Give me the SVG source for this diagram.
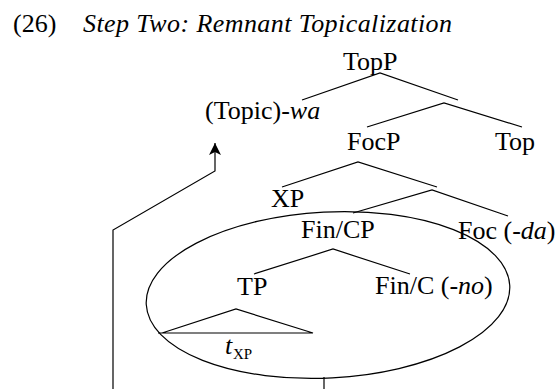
<svg xmlns="http://www.w3.org/2000/svg" width="558" height="389" viewBox="0 0 558 389">
<style>
text{font-family:"Liberation Serif","Times New Roman",serif;font-size:26px;fill:#000}
.it{font-style:italic}
.sub{font-size:15px}
.ln{fill:none;stroke:#000;stroke-width:1.2}
</style>
<defs>
<marker id="arr" viewBox="0 0 12 12" markerWidth="12" markerHeight="12" refX="12" refY="6" orient="auto" markerUnits="userSpaceOnUse">
<path d="M12,6 L0,0 L3,6 L0,12 Z" fill="#000"/>
</marker>
</defs>
<g id="title">
<text x="13" y="32">(26)</text>
<text x="83" y="32" class="it" textLength="369" lengthAdjust="spacing">Step Two: Remnant Topicalization</text>
</g>
<g id="TopP"><text x="343" y="70">TopP</text></g>
<g id="Topic"><text x="205" y="119">(Topic)-<tspan class="it">wa</tspan></text></g>
<g id="FocP"><text x="347" y="150">FocP</text></g>
<g id="Top"><text x="495" y="150">Top</text></g>
<g id="XP"><text x="271" y="207">XP</text></g>
<g id="FinCP"><text x="301" y="238">Fin/CP</text></g>
<g id="Foc"><text x="458" y="239">Foc (-<tspan class="it">da</tspan>)</text></g>
<g id="TP"><text x="237" y="295">TP</text></g>
<g id="FinC"><text x="375" y="294">Fin/C (-<tspan class="it">no</tspan>)</text></g>
<g id="trace"><text x="225" y="354" class="it">t</text><text x="233" y="359" class="sub">XP</text></g>
<g id="ellipse"><ellipse class="ln" cx="328" cy="295" rx="182" ry="83" transform="rotate(-3 328 295)"/></g>
<g id="connectors">
<polyline class="ln" points="302,100 380,73 458,100"/>
<polyline class="ln" points="367,127 444,103 522,127"/>
<polyline class="ln" points="282,187 358,162 437,187"/>
<polyline class="ln" points="353,213 432,190 508,216"/>
<polyline class="ln" points="254,274 333,249 410,274"/>
<polyline class="ln" points="158,333 313,333 236,309 162,333"/>
<polyline class="ln" points="113,389 113,230 215,171 215,143" marker-end="url(#arr)"/>
<line class="ln" x1="324" y1="377" x2="324" y2="389"/>
</g>
</svg>
